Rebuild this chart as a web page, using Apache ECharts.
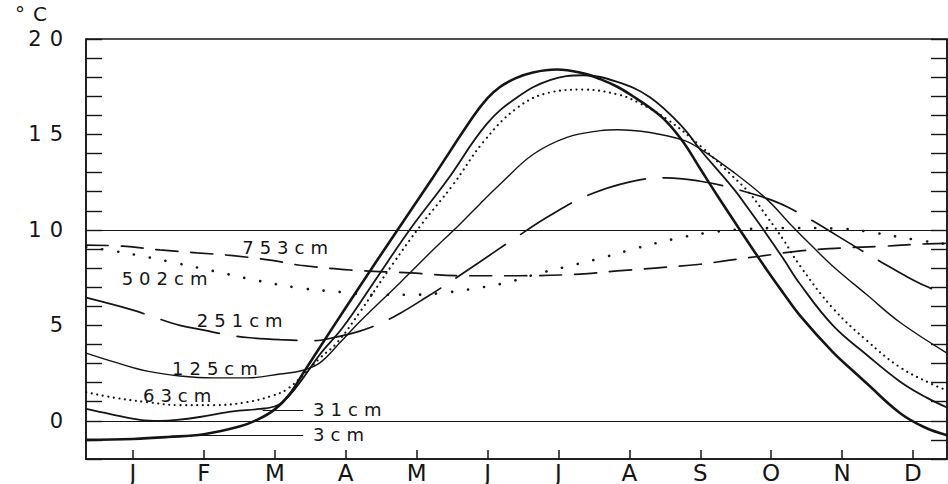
<!DOCTYPE html>
<html>
<head>
<meta charset="utf-8">
<script src="https://cdn.jsdelivr.net/npm/echarts@6/dist/echarts.min.js"></script>
<style>
html, body { margin: 0; padding: 0; background: #ffffff; }
#chart { width: 948px; height: 484px; }
#chart text[style*="18px"] { letter-spacing: 6px; }
#chart text[style*="21px"] { letter-spacing: 8px; }
#chart text[style*="20px"] { letter-spacing: 8px; }
</style>
</head>
<body>
<div id="chart"></div>
<script>
// Month letters placed at mid-month positions 0..11
const monthLabels = ['J', 'F', 'M', 'A', 'M', 'J', 'J', 'A', 'S', 'O', 'N', 'D'];
const monthTicks = [0, 1, 2, 3, 4, 5, 6, 7, 8, 9, 10, 11];
const yLabelValues = [0, 5, 10, 15, 20];
const unitLabel = '°C';

// [month position, temperature °C]
const d3cm = [[-0.66,-1.0],[0.00,-0.95],[0.49,-0.85],[1.00,-0.7],[1.50,-0.3],[1.75,0.05],[2.00,0.6],[2.21,1.4],[2.40,2.5],[2.74,4.45],[3.20,7.05],[3.74,10.05],[4.23,12.75],[4.80,15.95],[5.00,16.9],[5.18,17.5],[5.40,17.95],[5.64,18.25],[5.98,18.4],[6.35,18.2],[6.59,17.9],[6.83,17.5],[7.05,17.0],[7.29,16.4],[7.53,15.65],[7.76,14.6],[8.00,13.2],[8.24,11.8],[8.56,10.0],[8.94,7.9],[9.17,6.7],[9.41,5.5],[9.87,3.6],[10.16,2.6],[10.35,1.95],[10.82,0.4],[11.17,-0.35],[11.48,-0.75]];
const d31cm = [[-0.66,0.62],[-0.32,0.35],[0.10,0.05],[0.38,0.0],[0.62,0.05],[0.94,0.2],[1.41,0.5],[1.79,0.62],[2.03,0.8],[2.21,1.35],[2.40,2.25],[2.64,3.5],[2.96,4.9],[3.44,7.5],[3.91,10.05],[4.43,12.6],[4.99,15.55],[5.42,16.95],[5.88,17.85],[6.35,18.1],[6.83,17.75],[7.29,16.95],[7.76,15.35],[8.00,14.2],[8.46,12.2],[8.70,11.0],[8.94,9.75],[9.17,8.5],[9.41,7.15],[9.87,5.0],[10.35,3.45],[10.82,2.05],[11.20,1.2],[11.48,0.7]];
const d63cm = [[-0.66,1.5],[-0.28,1.22],[0.20,0.98],[0.66,0.82],[1.13,0.82],[1.61,0.98],[1.97,1.32],[2.17,1.65],[2.40,2.4],[2.64,3.3],[2.88,4.1],[3.20,5.7],[3.67,8.25],[4.05,10.2],[4.51,12.35],[4.94,14.6],[5.42,16.4],[5.88,17.2],[6.35,17.35],[6.83,17.1],[7.11,16.7],[7.53,15.8],[8.00,14.4],[8.46,12.8],[8.70,11.9],[8.94,10.7],[9.17,9.5],[9.41,8.1],[9.87,5.9],[10.35,4.2],[10.82,2.8],[11.28,1.9],[11.48,1.6]];
const d125cm = [[-0.66,3.55],[-0.28,3.1],[0.20,2.6],[0.66,2.35],[1.13,2.25],[1.61,2.25],[2.07,2.45],[2.40,2.65],[2.64,3.05],[2.92,4.1],[3.20,5.2],[3.77,7.25],[4.19,8.8],[4.61,10.3],[4.89,11.35],[5.18,12.4],[5.64,13.95],[6.12,14.85],[6.59,15.2],[6.83,15.25],[7.29,15.1],[7.76,14.7],[8.00,14.24],[8.46,13.05],[8.94,11.6],[9.27,10.3],[9.59,9.1],[9.87,8.1],[10.35,6.6],[10.82,5.15],[11.48,3.55]];
const d251cm = [[-0.66,6.45],[0.00,5.8],[0.28,5.45],[0.66,5.0],[1.00,4.75],[1.33,4.5],[1.65,4.35],[2.07,4.25],[2.54,4.2],[2.88,4.4],[3.20,4.7],[3.48,5.09],[3.77,5.64],[4.12,6.43],[4.47,7.27],[4.89,8.32],[5.36,9.5],[5.88,10.75],[6.40,11.79],[7.01,12.52],[7.53,12.73],[8.00,12.55],[8.42,12.22],[8.98,11.6],[9.23,11.2],[9.55,10.55],[9.93,9.7],[10.32,8.82],[10.63,8.15],[10.86,7.66],[11.17,7.07],[11.48,6.6]];
const d502cm = [[-0.66,9.1],[-0.28,8.9],[0.10,8.65],[0.56,8.3],[1.13,7.85],[1.75,7.35],[2.36,6.95],[2.92,6.75],[3.44,6.6],[3.91,6.6],[4.37,6.7],[4.85,6.95],[5.28,7.25],[5.70,7.7],[6.14,8.1],[6.63,8.55],[7.11,9.05],[7.60,9.5],[8.11,9.85],[8.66,10.05],[9.27,10.1],[9.97,10.07],[10.49,9.83],[10.92,9.55],[11.48,9.25]];
const d753cm = [[-0.66,9.2],[-0.14,9.15],[0.38,8.95],[0.90,8.8],[1.41,8.65],[1.96,8.4],[2.36,8.15],[3.06,7.9],[3.91,7.75],[4.65,7.6],[5.46,7.6],[6.30,7.68],[6.83,7.85],[7.36,8.0],[8.00,8.2],[8.39,8.4],[8.84,8.62],[9.41,8.9],[9.97,9.05],[10.61,9.15],[11.07,9.25],[11.48,9.3]];

// Depth labels: [text, month position of left edge, temperature of centre]
const depthLabels = [
  ['753cm', 1.54, 9.06],
  ['502cm', -0.16, 7.45],
  ['251cm', 0.90, 5.26],
  ['125cm', 0.55, 2.76],
  ['63cm', 0.14, 1.35],
  ['31cm', 2.54, 0.6],
  ['3cm', 2.54, -0.73]
];
// Leader lines: [x start, x end, temperature]
const leaders = [[1.83, 2.40, 0.57], [0.94, 2.40, -0.73]];
const refLines = [0, 10];

const ink = '#151515';
const font = 'DejaVu Sans';

function lineSeries(name, data, width, type) {
  return {
    name: name, type: 'line', data: data, smooth: 0.4, showSymbol: false,
    silent: true, animation: false,
    lineStyle: { color: ink, width: width, type: type || 'solid', cap: 'round' }
  };
}

const series = [
  lineSeries('3cm', d3cm, 2.6),
  lineSeries('31cm', d31cm, 1.8),
  lineSeries('63cm', d63cm, 2.1, [0.1, 5.5]),
  lineSeries('125cm', d125cm, 1.4),
  lineSeries('251cm', d251cm, 1.7, [60, 18]),
  lineSeries('502cm', d502cm, 2.6, [0.1, 16]),
  lineSeries('753cm', d753cm, 1.7, [22, 13])
];
series[0].markLine = {
  silent: true, animation: false, symbol: ['none', 'none'],
  label: { show: false },
  lineStyle: { type: 'solid', color: ink, width: 1.2 },
  data: refLines.map(v => ({ yAxis: v })).concat(
    leaders.map(l => [{ coord: [l[0], l[2]] }, { coord: [l[1], l[2]] }]))
};

const option = {
  backgroundColor: '#ffffff',
  animation: false,
  grid: { left: 86, right: 1, top: 39, bottom: 23, show: true, borderColor: ink, borderWidth: 1.5, containLabel: false },
  xAxis: {
    type: 'value', min: -0.663, max: 11.48,
    axisLine: { show: true, onZero: false, lineStyle: { color: ink, width: 1.5 } },
    splitLine: { show: false },
    axisTick: { show: true, inside: true, length: 9, customValues: monthTicks, lineStyle: { color: ink, width: 1.5 } },
    axisLabel: { show: true, customValues: monthTicks, formatter: v => monthLabels[Math.round(v)], fontSize: 23, fontFamily: font, color: ink, margin: 2 }
  },
  yAxis: [
    {
      type: 'value', min: -2, max: 20, interval: 1, position: 'left',
      axisLine: { show: true, onZero: false, lineStyle: { color: ink, width: 1.5 } },
      axisTick: { show: true, inside: true, length: 16, lineStyle: { color: ink, width: 1.4 } },
      axisLabel: { formatter: v => (yLabelValues.indexOf(v) >= 0 ? String(v) : ''), fontSize: 21, fontFamily: font, color: ink, margin: 15 },
      splitLine: { show: false }
    },
    {
      type: 'value', min: -2, max: 20, interval: 1, position: 'right',
      axisLine: { show: true, onZero: false, lineStyle: { color: ink, width: 1.5 } },
      axisTick: { show: true, inside: true, length: 16, lineStyle: { color: ink, width: 1.4 } },
      axisLabel: { show: false },
      splitLine: { show: false }
    }
  ],
  series: series
};

const chart = echarts.init(document.getElementById('chart'), null, { renderer: 'svg' });
chart.setOption(option);
const topLeft = chart.convertToPixel({ gridIndex: 0 }, [-0.663, 20]);
chart.setOption({
  graphic: depthLabels.map(d => {
    const p = chart.convertToPixel({ gridIndex: 0 }, [d[1], d[2]]);
    return {
      type: 'text', x: p[0], y: p[1], silent: true,
      style: { text: d[0], fontSize: 18, fontFamily: font, fill: ink, align: 'left', verticalAlign: 'middle' }
    };
  }).concat([{
    type: 'text', x: topLeft[0] - 71, y: topLeft[1] - 25, silent: true,
    style: { text: unitLabel, fontSize: 20, fontFamily: font, fill: ink, align: 'left', verticalAlign: 'middle' }
  }])
});
</script>
</body>
</html>
